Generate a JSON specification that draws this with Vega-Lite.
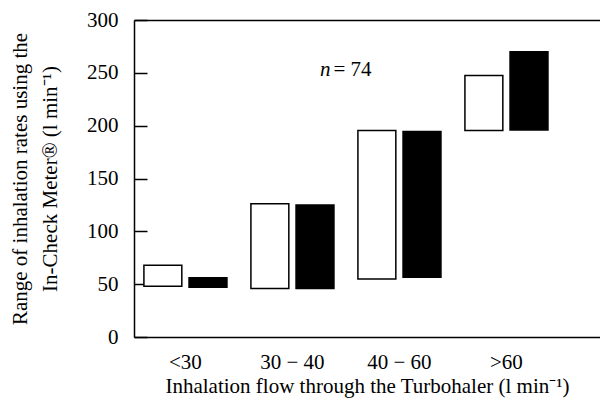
{
  "$schema": "https://vega.github.io/schema/vega-lite/v6.json",
  "width": 466,
  "height": 317,
  "autosize": {"type": "none"},
  "padding": {"left": 134, "top": 20, "right": 0, "bottom": 64},
  "background": "white",
  "config": {
    "view": {"stroke": null},
    "font": "Liberation Serif",
    "axis": {
      "domainColor": "black",
      "domainWidth": 1.5,
      "tickColor": "black",
      "tickWidth": 1.5,
      "labelColor": "black",
      "labelFont": "Liberation Serif",
      "labelFontSize": 21,
      "titleColor": "black",
      "titleFont": "Liberation Serif",
      "titleFontSize": 21,
      "titleFontWeight": "normal",
      "grid": false
    }
  },
  "datasets": {
    "bars": [
      {"flow": "<30", "device": "open", "low": 48, "high": 68},
      {"flow": "<30", "device": "filled", "low": 47, "high": 56},
      {"flow": "30 − 40", "device": "open", "low": 46, "high": 126},
      {"flow": "30 − 40", "device": "filled", "low": 46, "high": 125},
      {"flow": "40 − 60", "device": "open", "low": 55, "high": 195.5},
      {"flow": "40 − 60", "device": "filled", "low": 56.5, "high": 194.5},
      {"flow": ">60", "device": "open", "low": 195.5, "high": 247.5},
      {"flow": ">60", "device": "filled", "low": 196, "high": 270}
    ],
    "note": [
      {"flow": "30 − 40", "low": 253, "n": "n", "rest": "= 74"}
    ]
  },
  "encoding": {
    "y": {
      "field": "low",
      "type": "quantitative",
      "scale": {"domain": [0, 300], "nice": false},
      "axis": {
        "orient": "left",
        "values": [0, 50, 100, 150, 200, 250, 300],
        "tickSize": -13,
        "labelPadding": 29,
        "title": ["Range of inhalation rates using the", "In-Check Meter® (l min⁻¹)"],
        "titleLineHeight": 30,
        "titlePadding": 26
      }
    }
  },
  "layer": [
    {
      "data": {"name": "bars"},
      "mark": {"type": "bar", "stroke": "black", "strokeWidth": 1.5},
      "encoding": {
        "x": {
          "field": "flow",
          "type": "nominal",
          "sort": ["<30", "30 − 40", "40 − 60", ">60"],
          "scale": {"paddingInner": 0.224, "paddingOuter": 0.2895, "align": 0.16},
          "axis": {
            "orient": "bottom",
            "ticks": false,
            "labelAngle": 0,
            "labelPadding": 14,
            "title": "Inhalation flow through the Turbohaler (l min⁻¹)",
            "titlePadding": 3
          }
        },
        "xOffset": {
          "field": "device",
          "type": "nominal",
          "sort": ["open", "filled"],
          "scale": {"paddingInner": 0.16}
        },
        "y2": {"field": "high"},
        "fill": {
          "field": "device",
          "type": "nominal",
          "scale": {"domain": ["open", "filled"], "range": ["white", "black"]},
          "legend": null
        }
      }
    },
    {
      "data": {"name": "note"},
      "mark": {"type": "text", "fontStyle": "italic", "align": "right", "baseline": "middle", "dx": 38, "fontSize": 21, "color": "black"},
      "encoding": {
        "x": {
          "field": "flow",
          "type": "nominal",
          "sort": ["<30", "30 − 40", "40 − 60", ">60"],
          "axis": {"orient": "top", "labels": false, "ticks": false, "title": null, "domain": true}
        },
        "text": {"field": "n"}
      }
    },
    {
      "data": {"name": "note"},
      "mark": {"type": "text", "align": "left", "baseline": "middle", "dx": 41, "fontSize": 21, "color": "black"},
      "encoding": {
        "x": {
          "field": "flow",
          "type": "nominal",
          "sort": ["<30", "30 − 40", "40 − 60", ">60"],
          "axis": null
        },
        "text": {"field": "rest"}
      }
    }
  ],
  "resolve": {"axis": {"x": "independent"}}
}
